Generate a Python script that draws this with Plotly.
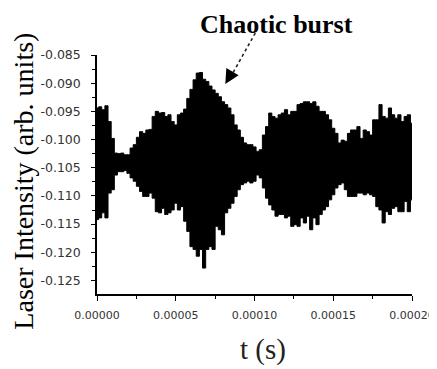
import plotly.graph_objects as go

# sample times (microseconds)
time_us = [0, 2, 4, 6, 8, 10, 12, 14, 16, 18, 20, 22, 24, 26, 28, 30, 32, 34, 36, 38,
           40, 42, 44, 46, 48, 50, 52, 54, 56, 58, 60, 62, 64, 66, 68, 70, 72, 74, 76, 78,
           80, 82, 84, 86, 88, 90, 92, 94, 96, 98, 100, 102, 104, 106, 108, 110, 112, 114, 116, 118,
           120, 122, 124, 126, 128, 130, 132, 134, 136, 138, 140, 142, 144, 146, 148, 150, 152, 154, 156, 158,
           160, 162, 164, 166, 168, 170, 172, 174, 176, 178, 180, 182, 184, 186, 188, 190, 192, 194, 196, 198, 200]

# upper envelope of the laser intensity (arb. units)
upper = [-0.0944, -0.0942, -0.0947, -0.0940, -0.0968, -0.0998, -0.1024, -0.1025, -0.1024, -0.1027,
         -0.1027, -0.1015, -0.1009, -0.0996, -0.0986, -0.0989, -0.0983, -0.0982, -0.0959, -0.0950,
         -0.0953, -0.0952, -0.0959, -0.0956, -0.0968, -0.0974, -0.0956, -0.0953, -0.0946, -0.0927,
         -0.0911, -0.0894, -0.0882, -0.0881, -0.0893, -0.0897, -0.0905, -0.0912, -0.0918, -0.0924,
         -0.0933, -0.0938, -0.0944, -0.0956, -0.0974, -0.0983, -0.0996, -0.1006, -0.1009, -0.1009,
         -0.1013, -0.1021, -0.1018, -0.0992, -0.0977, -0.0953, -0.0959, -0.0962, -0.0956, -0.0953,
         -0.0947, -0.0956, -0.0950, -0.0950, -0.0938, -0.0936, -0.0933, -0.0933, -0.0936, -0.0933,
         -0.0941, -0.0950, -0.0950, -0.0956, -0.0965, -0.0980, -0.0989, -0.1006, -0.1001, -0.1003,
         -0.0989, -0.0983, -0.0983, -0.0977, -0.0998, -0.0983, -0.0986, -0.0992, -0.0965, -0.0965,
         -0.0938, -0.0959, -0.0962, -0.0944, -0.0956, -0.0962, -0.0956, -0.0968, -0.0959, -0.0956,
         -0.0971]

# lower envelope
lower = [-0.1142, -0.1139, -0.1130, -0.1139, -0.1095, -0.1089, -0.1063, -0.1057, -0.1057, -0.1055,
         -0.1060, -0.1068, -0.1074, -0.1083, -0.1092, -0.1101, -0.1101, -0.1095, -0.1104, -0.1128,
         -0.1130, -0.1122, -0.1133, -0.1130, -0.1125, -0.1113, -0.1125, -0.1119, -0.1145, -0.1163,
         -0.1190, -0.1195, -0.1207, -0.1195, -0.1228, -0.1195, -0.1190, -0.1195, -0.1154, -0.1160,
         -0.1169, -0.1130, -0.1122, -0.1113, -0.1101, -0.1089, -0.1080, -0.1077, -0.1074, -0.1077,
         -0.1074, -0.1063, -0.1068, -0.1086, -0.1104, -0.1116, -0.1125, -0.1136, -0.1133, -0.1133,
         -0.1139, -0.1136, -0.1154, -0.1151, -0.1154, -0.1139, -0.1148, -0.1136, -0.1160, -0.1139,
         -0.1151, -0.1133, -0.1125, -0.1119, -0.1107, -0.1098, -0.1086, -0.1080, -0.1077, -0.1089,
         -0.1101, -0.1101, -0.1101, -0.1095, -0.1095, -0.1098, -0.1095, -0.1098, -0.1101, -0.1119,
         -0.1125, -0.1148, -0.1128, -0.1133, -0.1122, -0.1119, -0.1128, -0.1128, -0.1110, -0.1128,
         -0.1107]

x_tickvals = [0.0, 0.00005, 0.00010, 0.00015, 0.00020]
x_ticktext = ["0.00000", "0.00005", "0.00010", "0.00015", "0.00020"]
y_tickvals = [-0.085, -0.090, -0.095, -0.100, -0.105, -0.110, -0.115, -0.120, -0.125]
y_ticktext = ["-0.085", "-0.090", "-0.095", "-0.100", "-0.105", "-0.110", "-0.115", "-0.120", "-0.125"]

t_s = [v * 1e-6 for v in time_us]

fig = go.Figure()
fig.add_trace(go.Scatter(x=t_s, y=upper, mode="lines", line=dict(color="black", width=1, shape="hvh"),
                         showlegend=False, hoverinfo="skip"))
fig.add_trace(go.Scatter(x=t_s, y=lower, mode="lines", line=dict(color="black", width=1, shape="hvh"),
                         fill="tonexty", fillcolor="black", showlegend=False, hoverinfo="skip"))

fig.update_xaxes(range=[0, 0.0002], showline=True, linecolor="black", linewidth=1.5,
                 showgrid=False, zeroline=False, ticks="outside", ticklen=5, tickwidth=1.2,
                 tickcolor="black", tickmode="array", tickvals=x_tickvals, ticktext=x_ticktext,
                 tickfont=dict(family="DejaVu Sans", size=11, color="#333"),
                 ticklabelstandoff=5, automargin=False, ticklabeloverflow="allow",
                 minor=dict(ticks="outside", ticklen=3, tickwidth=1, tickcolor="black",
                            tick0=0, dtick=0.000025))
fig.update_yaxes(range=[-0.1274, -0.085], showline=True, linecolor="black", linewidth=1.5,
                 showgrid=False, zeroline=False, ticks="outside", ticklen=4, tickwidth=1.2,
                 tickcolor="black", tickmode="array", tickvals=y_tickvals, ticktext=y_ticktext,
                 tickfont=dict(family="DejaVu Sans", size=12.5, color="#333"),
                 ticklabelstandoff=8, automargin=False,
                 minor=dict(ticks="outside", ticklen=3, tickwidth=1, tickcolor="black",
                            tick0=-0.085, dtick=0.0025))

serif = "Liberation Serif"
fig.add_annotation(text="Chaotic burst", xref="paper", yref="paper", x=0.569, y=1.1295,
                   xanchor="center", yanchor="middle", showarrow=False,
                   font=dict(family=serif, size=26, color="black", weight="bold"))
fig.add_annotation(text="Laser Intensity (arb. units)", xref="paper", yref="paper",
                   x=-0.234, y=0.4714, xanchor="center", yanchor="middle", textangle=-90,
                   showarrow=False, font=dict(family=serif, size=28, color="black"))
fig.add_annotation(text="t (s)", xref="paper", yref="paper", x=0.528, y=-0.2328,
                   xanchor="center", yanchor="middle", showarrow=False,
                   font=dict(family=serif, size=29, color="#222"))

# dotted arrow shaft
fig.add_shape(type="line", xref="paper", yref="paper", x0=0.5025, y0=1.0919, x1=0.425, y1=0.91,
              line=dict(color="#222", width=1.6, dash="dot"))
# arrow head
fig.add_annotation(text="", xref="paper", yref="paper", x=0.4073, y=0.8788,
                   ax=7, ay=-12, showarrow=True, arrowhead=2, arrowsize=1.9, arrowwidth=1.5,
                   arrowcolor="black")

# the page body adds an 8 px margin, so the figure is 8 px smaller in each direction
fig.update_layout(width=429, height=361, margin=dict(l=89, r=25, t=47, b=75),
                  plot_bgcolor="white", paper_bgcolor="white")

fig.write_html("out.html")
